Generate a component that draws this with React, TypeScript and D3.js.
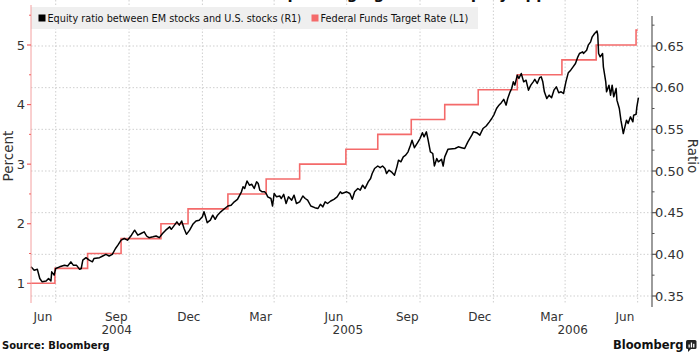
import React from "react";
import * as d3 from "d3";

const fedDates = ["2004-05-31","2004-06-30","2004-08-10","2004-09-21","2004-11-10","2004-12-14","2005-02-02","2005-03-22","2005-05-03","2005-06-30","2005-08-09","2005-09-20","2005-11-01","2005-12-13","2006-01-31","2006-03-28","2006-05-10","2006-06-29","2006-07-01"];
const fedRates = [1.0,1.25,1.5,1.75,2.0,2.25,2.5,2.75,3.0,3.25,3.5,3.75,4.0,4.25,4.5,4.75,5.0,5.25,5.25];

const eqDates = [
"2004-05-31","2004-06-04","2004-06-08","2004-06-11","2004-06-14","2004-06-19","2004-06-22","2004-06-25","2004-06-26","2004-06-29",
"2004-07-01","2004-07-06","2004-07-12","2004-07-16","2004-07-20","2004-07-23","2004-07-27","2004-07-31","2004-08-02","2004-08-04",
"2004-08-08","2004-08-12","2004-08-16","2004-08-18","2004-08-25","2004-08-29","2004-09-02","2004-09-06","2004-09-10","2004-09-14",
"2004-09-17","2004-09-21","2004-09-25","2004-09-29","2004-10-04","2004-10-08","2004-10-12","2004-10-16","2004-10-20","2004-10-23",
"2004-10-26","2004-10-31","2004-11-04","2004-11-08","2004-11-12","2004-11-16","2004-11-21","2004-11-23","2004-11-27","2004-11-30",
"2004-12-03","2004-12-06","2004-12-09","2004-12-12","2004-12-16","2004-12-20","2004-12-24","2004-12-28","2005-01-01","2005-01-03",
"2005-01-05","2005-01-07","2005-01-11","2005-01-14","2005-01-17","2005-01-20","2005-01-24","2005-01-29","2005-02-02","2005-02-06",
"2005-02-10","2005-02-14","2005-02-19","2005-02-21","2005-02-23","2005-02-26","2005-03-01","2005-03-04","2005-03-07","2005-03-10",
"2005-03-12","2005-03-14","2005-03-17","2005-03-20","2005-03-22","2005-03-24","2005-03-28","2005-03-30","2005-04-01","2005-04-04",
"2005-04-08","2005-04-10","2005-04-13","2005-04-16","2005-04-19","2005-04-23","2005-04-26","2005-04-29","2005-05-03","2005-05-07",
"2005-05-10","2005-05-13","2005-05-17","2005-05-22","2005-05-26","2005-05-29","2005-06-01","2005-06-04","2005-06-07","2005-06-11",
"2005-06-15","2005-06-19","2005-06-23","2005-06-25","2005-07-01","2005-07-05","2005-07-08","2005-07-11","2005-07-15","2005-07-18",
"2005-07-21","2005-07-24","2005-07-28","2005-07-31","2005-08-02","2005-08-05","2005-08-09","2005-08-12","2005-08-15","2005-08-18",
"2005-08-20","2005-08-23","2005-08-26","2005-08-30","2005-09-02","2005-09-04","2005-09-07","2005-09-10","2005-09-13","2005-09-16",
"2005-09-19","2005-09-21","2005-09-24","2005-09-28","2005-10-01","2005-10-04","2005-10-06","2005-10-09","2005-10-11","2005-10-14",
"2005-10-17","2005-10-19","2005-10-22","2005-10-24","2005-10-28","2005-10-30","2005-11-01","2005-11-05","2005-11-14","2005-11-18",
"2005-11-22","2005-11-26","2005-11-30","2005-12-05","2005-12-07","2005-12-11","2005-12-15","2005-12-19","2005-12-23","2005-12-27",
"2005-12-30","2006-01-02","2006-01-05","2006-01-08","2006-01-11","2006-01-14","2006-01-17","2006-01-19","2006-01-22","2006-01-24",
"2006-01-26","2006-01-28","2006-01-31","2006-02-02","2006-02-05","2006-02-08","2006-02-11","2006-02-14","2006-02-17","2006-02-20",
"2006-02-22","2006-02-25","2006-02-28","2006-03-02","2006-03-04","2006-03-06","2006-03-09","2006-03-12","2006-03-15","2006-03-18",
"2006-03-21","2006-03-24","2006-03-27","2006-03-30","2006-04-02","2006-04-05","2006-04-08","2006-04-11","2006-04-14","2006-04-17",
"2006-04-19","2006-04-23","2006-04-24","2006-04-28","2006-04-30","2006-05-03","2006-05-05","2006-05-08","2006-05-11","2006-05-12",
"2006-05-13","2006-05-15","2006-05-18","2006-05-19","2006-05-22","2006-05-23","2006-05-26","2006-05-28","2006-05-30","2006-06-01",
"2006-06-04","2006-06-05","2006-06-08","2006-06-10","2006-06-13","2006-06-15","2006-06-17","2006-06-19","2006-06-22","2006-06-25",
"2006-06-26","2006-06-29","2006-06-30","2006-07-02"
];
const eqValues = [
0.385,0.381,0.382,0.371,0.367,0.368,0.371,0.368,0.379,0.375,
0.383,0.385,0.387,0.386,0.391,0.387,0.387,0.382,0.383,0.393,
0.396,0.393,0.391,0.395,0.396,0.398,0.400,0.398,0.400,0.407,
0.411,0.417,0.419,0.417,0.423,0.429,0.423,0.425,0.427,0.422,
0.420,0.421,0.422,0.420,0.425,0.429,0.433,0.430,0.435,0.439,
0.435,0.440,0.431,0.424,0.429,0.436,0.440,0.441,0.445,0.451,
0.445,0.438,0.441,0.447,0.442,0.447,0.451,0.455,0.458,0.459,
0.463,0.466,0.475,0.481,0.479,0.488,0.483,0.484,0.479,0.487,
0.485,0.477,0.475,0.475,0.473,0.469,0.467,0.458,0.473,0.469,
0.470,0.467,0.472,0.461,0.469,0.465,0.471,0.461,0.463,0.470,
0.467,0.465,0.458,0.456,0.455,0.460,0.457,0.463,0.461,0.464,
0.466,0.469,0.475,0.473,0.475,0.473,0.466,0.475,0.479,0.477,
0.483,0.479,0.487,0.491,0.497,0.503,0.506,0.504,0.506,0.503,
0.497,0.501,0.499,0.495,0.505,0.513,0.511,0.517,0.519,0.523,
0.531,0.537,0.528,0.534,0.539,0.546,0.541,0.547,0.538,0.523,
0.521,0.506,0.515,0.511,0.514,0.506,0.517,0.526,0.527,0.529,
0.528,0.527,0.535,0.543,0.547,0.546,0.543,0.551,0.554,0.559,
0.563,0.568,0.575,0.579,0.582,0.586,0.579,0.587,0.595,0.599,
0.607,0.603,0.615,0.611,0.617,0.607,0.609,0.597,0.603,0.607,
0.610,0.605,0.612,0.613,0.607,0.595,0.587,0.591,0.588,0.597,
0.601,0.594,0.595,0.593,0.607,0.618,0.621,0.625,0.629,0.637,
0.641,0.643,0.641,0.645,0.651,0.655,0.661,0.665,0.668,0.663,
0.641,0.637,0.641,0.625,0.607,0.595,0.603,0.591,0.603,0.589,
0.599,0.585,0.575,0.561,0.545,0.553,0.561,0.557,0.565,0.559,
0.567,0.568,0.577,0.588
];

const leftTicks = [1, 2, 3, 4, 5];
const leftMinor = [1.5, 2.5, 3.5, 4.5, 5.5];
const rightTicks = [0.35, 0.4, 0.45, 0.5, 0.55, 0.6, 0.65];
const rightMinor = [0.375, 0.425, 0.475, 0.525, 0.575, 0.625, 0.675];
const yearLabels = [2004, 2005, 2006];

const legendEq = "Equity ratio between EM stocks and U.S. stocks (R1)";
const legendFed = "Federal Funds Target Rate (L1)";
const titleText = "Fed Hikes Sap Emerging-Market Equity Appetite";

const FONT = "'DejaVu Sans', sans-serif";
const parse = d3.timeParse("%Y-%m-%d");

export default function App() {
  const domainStart = new Date(2004, 4, 31);
  const domainEnd = new Date(2006, 6, 19);
  const x = d3.scaleTime().domain([domainStart, domainEnd]).range([31, 652]);
  const yL = d3.scaleLinear().domain([1, 5]).range([283.3, 45]);
  const yR = d3.scaleLinear().domain([0.35, 0.65]).range([296, 46]);

  const fed = fedDates.map((d, i) => ({ d: parse(d) as Date, v: fedRates[i] }));
  const eq = eqDates.map((d, i) => ({ d: parse(d) as Date, v: eqValues[i] }));

  const fedLine = d3.line<{ d: Date; v: number }>().x((p) => x(p.d)).y((p) => yL(p.v)).curve(d3.curveStepAfter);
  const eqLine = d3.line<{ d: Date; v: number }>().x((p) => x(p.d)).y((p) => yR(p.v)).curve(d3.curveLinear);

  const gridDates = d3.timeMonth.range(new Date(2004, 6, 1), domainEnd, 3);
  const labelMonths = d3.timeMonth.range(new Date(2004, 5, 1), new Date(2006, 6, 1), 3).map((m) => new Date(m.getFullYear(), m.getMonth(), 15));
  const fmtMonth = d3.timeFormat("%b");

  const plotTop = 0;
  const plotBottom = 304;

  return (
    <svg width={700} height={355} style={{ position: "absolute", left: 0, top: 0, background: "#fff" }} fontFamily={FONT}>
      {/* title (cropped at the top edge, as in the source) */}
      <text x={383} y={-1} textAnchor="middle" fontSize={15} fontWeight="bold" fill="#111">{titleText}</text>

      {/* vertical grid */}
      {gridDates.map((d, i) => (
        <line key={"vg" + i} x1={x(d)} x2={x(d)} y1={plotTop} y2={plotBottom} stroke="#cfcfcf" strokeWidth={1} strokeDasharray="1.5,2" />
      ))}
      {/* horizontal grid */}
      {rightTicks.map((t, i) => (
        <line key={"hg" + i} x1={31} x2={652} y1={yR(t)} y2={yR(t)} stroke="#cfcfcf" strokeWidth={1} strokeDasharray="1.5,2" />
      ))}

      {/* legend */}
      <rect x={31} y={7} width={447} height={22} fill="#efefef" />
      <rect x={38.5} y={14.5} width={7} height={7} fill="#000" />
      <text x={47.5} y={21.8} fontSize={9.7} fill="#111">{legendEq}</text>
      <rect x={311.5} y={14.5} width={7} height={7} fill="#f46a6a" />
      <text x={320.5} y={21.8} fontSize={9.7} fill="#111">{legendFed}</text>

      {/* series */}
      <path d={fedLine(fed) || ""} fill="none" stroke="#f46a6a" strokeWidth={1.6} />
      <path d={eqLine(eq) || ""} fill="none" stroke="#000" strokeWidth={1.5} strokeLinejoin="round" />

      {/* left axis */}
      <line x1={31} x2={31} y1={5} y2={303} stroke="#f4a0a0" strokeWidth={1} />
      {leftTicks.map((t) => (
        <g key={"lt" + t}>
          <line x1={27} x2={31} y1={yL(t)} y2={yL(t)} stroke="#f06262" strokeWidth={1.2} />
          <text x={25} y={yL(t)} dy="0.36em" textAnchor="end" fontSize={13} fill="#333">{t}</text>
        </g>
      ))}
      {leftMinor.map((t) => (
        <line key={"lm" + t} x1={29} x2={31} y1={yL(t)} y2={yL(t)} stroke="#f06262" strokeWidth={1} />
      ))}
      <text transform={`translate(13,156) rotate(-90)`} textAnchor="middle" fontSize={13.5} fill="#333">Percent</text>

      {/* right axis */}
      <line x1={652} x2={652} y1={16} y2={307} stroke="#666" strokeWidth={1.3} />
      {rightTicks.map((t) => (
        <g key={"rt" + t}>
          <line x1={652} x2={656} y1={yR(t)} y2={yR(t)} stroke="#555" strokeWidth={1.2} />
          <text x={655} y={yR(t)} dy="0.36em" textAnchor="start" fontSize={13} fill="#333">{d3.format(".2f")(t)}</text>
        </g>
      ))}
      {rightMinor.map((t) => (
        <line key={"rm" + t} x1={652} x2={654.5} y1={yR(t)} y2={yR(t)} stroke="#555" strokeWidth={1} />
      ))}
      <text transform={`translate(688,156) rotate(90)`} textAnchor="middle" fontSize={13.5} fill="#333">Ratio</text>

      {/* x axis labels */}
      {labelMonths.map((d, i) => (
        <text key={"ml" + i} x={x(d)} y={321} textAnchor="middle" fontSize={12} fill="#333">{fmtMonth(d)}</text>
      ))}
      {yearLabels.map((yr) => {
        const a = d3.max([new Date(yr, 0, 1), domainStart]) as Date;
        const b = d3.min([new Date(yr + 1, 0, 1), domainEnd]) as Date;
        return (
          <text key={"yl" + yr} x={(x(a) + x(b)) / 2} y={334} textAnchor="middle" fontSize={12} fill="#333">{yr}</text>
        );
      })}

      {/* footer */}
      <text x={2} y={349} fontSize={10} fontWeight="bold" fill="#111">Source: Bloomberg</text>
      <text x={613} y={349} fontSize={11.5} fontWeight="bold" fill="#111">Bloomberg</text>
      <g>
        <rect x={686} y={340} width={10.5} height={9} rx={1.5} fill="#222" />
        <path d="M688,348.5 L688,352 L691.5,348.5 Z" fill="#222" />
        <rect x={688.5} y={344.5} width={1.3} height={3} fill="#fff" />
        <rect x={690.8} y={342.5} width={1.3} height={5} fill="#fff" />
        <rect x={693.1} y={343.8} width={1.3} height={3.7} fill="#fff" />
      </g>
    </svg>
  );
}
